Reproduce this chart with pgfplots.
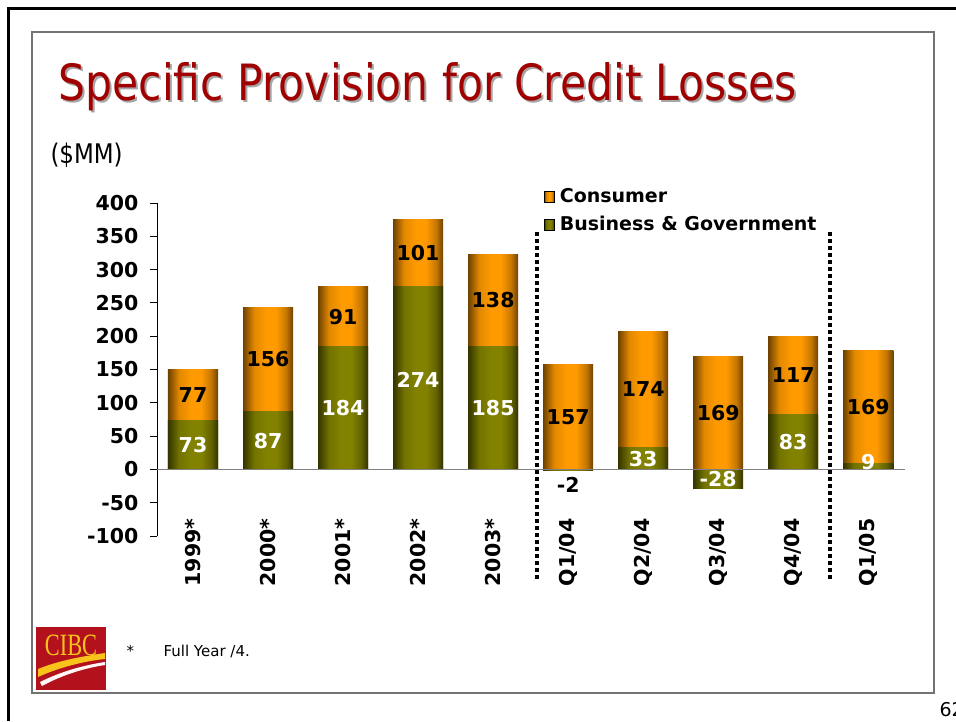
\documentclass[border=0pt]{standalone}
\usepackage{pgfplots}
\usepackage{pgfplotstable}
\pgfplotsset{compat=1.18}
\usepackage{fontspec}
\setmainfont{DejaVu Sans}
\newfontfamily\titlefont[FakeStretch=0.85]{DejaVu Sans}
\newfontfamily\logofont[FakeStretch=0.72]{Liberation Serif}

\definecolor{orL}{HTML}{FF9A00}
\definecolor{orD}{HTML}{6E4200}
\definecolor{grL}{HTML}{828200}
\definecolor{grD}{HTML}{343400}
\definecolor{titlered}{HTML}{A00000}
\definecolor{cibcred}{HTML}{B3121C}
\definecolor{cibcyellow}{HTML}{F8C41C}

\pgfdeclarehorizontalshading{orcyl}{100bp}{color(0bp)=(orD); color(25bp)=(orD); color(36bp)=(orL!80!orD); color(48bp)=(orL); color(58bp)=(orL); color(68bp)=(orL!60!orD); color(75bp)=(orD); color(100bp)=(orD)}
\pgfdeclarehorizontalshading{grcyl}{100bp}{color(0bp)=(grD); color(25bp)=(grD); color(36bp)=(grL!80!grD); color(48bp)=(grL); color(58bp)=(grL); color(68bp)=(grL!60!grD); color(75bp)=(grD); color(100bp)=(grD)}

\pgfplotstableread{
x cons bg cy by
0 77 73 111 36
1 156 87 165 43
2 91 184 229 92
3 101 274 325 135
4 138 185 254 92
5 157 -2 78 -23
6 174 33 120 15
7 169 -28 84 -14
8 117 83 141 41
9 169 9 93 11
}\data

\begin{document}
\begin{tikzpicture}
\clip (0pt,0pt) rectangle (956pt,-721pt);
\fill[white] (0pt,0pt) rectangle (956pt,-721pt);
% slide frames
\draw[black, line width=3pt] (8.5pt,-721pt) -- (8.5pt,-8.5pt) -- (956pt,-8.5pt);
\draw[black!55, line width=1.5pt] (32pt,-32pt) rectangle (934pt,-693pt);
% title
\node[anchor=base west, text=black!35, font=\titlefont\fontsize{50}{50}\selectfont] at (57pt,-102pt) {Specific Provision for Credit Losses};
\node[anchor=base west, text=titlered, font=\titlefont\fontsize{50}{50}\selectfont] at (55pt,-100pt) {Specific Provision for Credit Losses};
\node[anchor=base west, font=\titlefont\fontsize{27}{27}\selectfont] at (47pt,-163pt) {(\$MM)};
% footnote
\node[anchor=base west, font=\fontsize{15}{15}\selectfont] at (123pt,-656pt) {*};
\node[anchor=base west, font=\fontsize{15}{15}\selectfont] at (160pt,-656pt) {Full Year /4.};
\node[anchor=west, font=\fontsize{19}{19}\selectfont] at (936pt,-710pt) {62};
% logo
\fill[cibcred] (36pt,-627pt) rectangle (106pt,-690pt);
\node[anchor=base, text=cibcyellow, inner sep=0pt, font=\logofont\fontsize{31}{31}\selectfont] at (71pt,-655pt) {CIBC};
\fill[cibcyellow] (38pt,-669pt) .. controls (60pt,-660pt) and (85pt,-656pt) .. (105pt,-653pt) -- (105pt,-659pt) .. controls (85pt,-661pt) and (60pt,-667pt) .. (38pt,-677pt) -- cycle;
\fill[white!85!pink] (40pt,-682pt) .. controls (62pt,-671pt) and (85pt,-665pt) .. (105pt,-662pt) -- (105pt,-665pt) .. controls (85pt,-668pt) and (62pt,-675pt) .. (42pt,-686pt) -- cycle;

\begin{axis}[
  at={(157pt,-536pt)}, anchor=south west,
  width=748pt, height=333pt, scale only axis,
  xmin=-0.48, xmax=9.49, ymin=-100, ymax=400,
  clip=false,
  axis y line*=left, axis x line*=bottom,
  x axis line style={draw=none},
  y axis line style={black, line width=0.9pt},
  xtick={0,...,9},
  xticklabels={1999*,2000*,2001*,2002*,2003*,Q1/04,Q2/04,Q3/04,Q4/04,Q1/05},
  xtick style={draw=none},
  ytick={-100,-50,...,400},
  yticklabels={-100,-50,0,50,100,150,200,250,300,350,400},
  ytick style={black, line width=0.9pt},
  tick align=outside, major tick length=7pt,
  tick label style={font=\bfseries\fontsize{20.5}{20.5}\selectfont},
  xticklabel style={rotate=90, anchor=east},
  xticklabel shift=-28pt,
  yticklabel style={anchor=east, xshift=-8pt},
  legend style={at={(rel axis cs:0.517,1.048)}, anchor=north west, draw=none, fill=none,
    font=\bfseries\fontsize{19}{19}\selectfont, row sep=9pt, column sep=4pt,
    inner sep=0pt, nodes={inner sep=1.5pt}},
  legend cell align=left,
]
\pgfplotsinvokeforeach{0,...,9}{
\addplot[ybar, bar width=0.667, bar shift=0pt, draw=none, shade, shading=orcyl, forget plot,
  x filter/.expression={\coordindex==#1 ? x : nan}]
  table[x=x, y expr={\thisrow{cons}+max(\thisrow{bg},0)}] {\data};
}
\pgfplotsinvokeforeach{0,...,9}{
\addplot[ybar, bar width=0.667, bar shift=0pt, draw=none, shade, shading=grcyl, forget plot,
  x filter/.expression={\coordindex==#1 ? x : nan}]
  table[x=x, y=bg] {\data};
}
\addlegendimage{legend image code/.code={\shade[shading=orcyl] (0pt,-6pt) rectangle (10pt,5pt);}}
\addlegendentry{Consumer}
\addlegendimage{legend image code/.code={\shade[shading=grcyl] (0pt,-6pt) rectangle (10pt,5pt);}}
\addlegendentry{Business \& Government}
% zero line
\draw[black!50, line width=1.6pt] (axis cs:-0.48,0) -- (axis cs:9.49,0);
% labels
\addplot[draw=none, mark=none, forget plot, nodes near coords, point meta=explicit symbolic,
  every node near coord/.append style={anchor=center, text=black, font=\bfseries\fontsize{20.5}{20.5}\selectfont}]
  table[x=x, y=cy, meta=cons] {\data};
\addplot[draw=none, mark=none, forget plot, nodes near coords, point meta=explicit symbolic,
  x filter/.expression={\coordindex==5 ? nan : x},
  every node near coord/.append style={anchor=center, text=white, font=\bfseries\fontsize{20.5}{20.5}\selectfont}]
  table[x=x, y=by, meta=bg] {\data};
\addplot[draw=none, mark=none, forget plot, nodes near coords, point meta=explicit symbolic,
  x filter/.expression={\coordindex==5 ? x : nan},
  every node near coord/.append style={anchor=center, text=black, font=\bfseries\fontsize{20.5}{20.5}\selectfont}]
  table[x=x, y=by, meta=bg] {\data};
% separators
\draw[black, line width=3.5pt, dash pattern=on 3.5pt off 3.5pt] (axis cs:4.587,356) -- (axis cs:4.587,-167);
\draw[black, line width=3.5pt, dash pattern=on 3.5pt off 3.5pt] (axis cs:8.493,356) -- (axis cs:8.493,-167);
\end{axis}
\end{tikzpicture}
\end{document}
